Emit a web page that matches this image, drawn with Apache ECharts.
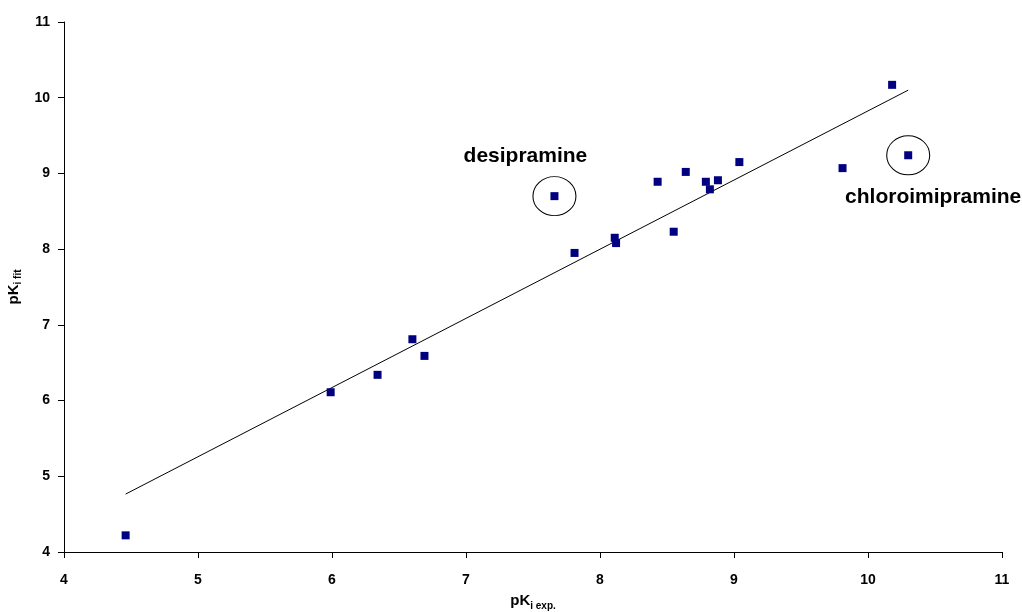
<!DOCTYPE html>
<html>
<head>
<meta charset="utf-8">
<style>
  html, body { margin: 0; padding: 0; background: #fff; }
  #main { width: 1022px; height: 612px; }
</style>
<script src="https://cdn.jsdelivr.net/npm/echarts@6/dist/echarts.min.js"></script>
</head>
<body>
<div id="main"></div>
<script>
// measured pKi values (x = experimental, y = fitted)
var pkExp = [4.46, 5.99, 6.34, 6.60, 6.69, 7.66, 7.81, 8.11, 8.12, 8.43, 8.55, 8.64, 8.79, 8.82, 8.88, 9.04, 9.81, 10.18, 10.30];
var pkFit = [4.22, 6.11, 6.34, 6.81, 6.59, 8.70, 7.95, 8.15, 8.08, 8.89, 8.23, 9.02, 8.89, 8.79, 8.91, 9.15, 9.07, 10.17, 9.24];

// regression line end points
var fitX = [4.46, 10.30];
var fitY = [4.765, 10.10];

// circled outliers
var outlierNames = ['desipramine', 'chloroimipramine'];
var outlierX = [7.66, 10.30];
var outlierY = [8.70, 9.24];

var font = "'Liberation Sans', Arial, sans-serif";

var points = pkExp.map(function(x, i) { return [x, pkFit[i]]; });
var line = fitX.map(function(x, i) { return [x, fitY[i]]; });

var labelPos = [
  { position: 'top', offset: [-29, -4] },
  { position: 'bottom', offset: [25, 6] }
];
var circles = outlierX.map(function(x, i) {
  return {
    name: outlierNames[i],
    value: [x, outlierY[i]],
    label: {
      show: true,
      formatter: '{b}',
      position: labelPos[i].position,
      offset: labelPos[i].offset,
      fontFamily: font,
      fontWeight: 'bold',
      fontSize: 21,
      color: '#000'
    }
  };
});

var chart = echarts.init(document.getElementById('main'), null, { renderer: 'canvas' });

var axisCommon = {
  type: 'value',
  min: 4,
  max: 11,
  interval: 1,
  nameLocation: 'middle',
  axisLine: { show: true, lineStyle: { color: '#000', width: 1 } },
  axisTick: { show: true, inside: false, length: 6, lineStyle: { color: '#000' } },
  splitLine: { show: false },
  axisLabel: { color: '#000', fontFamily: font, fontWeight: 'bold', fontSize: 14 }
};

var nameRich = {
  a: { fontFamily: font, fontWeight: 'bold', fontSize: 15, color: '#000', lineHeight: 20 },
  b: { fontFamily: font, fontWeight: 'bold', fontSize: 10, color: '#000', lineHeight: 8, verticalAlign: 'bottom' }
};

var option = {
  animation: false,
  backgroundColor: '#fff',
  grid: { left: 64, right: 20, top: 22, bottom: 60, outerBoundsMode: 'none', containLabel: false },
  xAxis: Object.assign({}, axisCommon, {
    name: '{a|pK}{b|i exp.}',
    nameGap: 39,
    nameTextStyle: { rich: nameRich },
    axisLabel: Object.assign({}, axisCommon.axisLabel, { margin: 21 })
  }),
  yAxis: Object.assign({}, axisCommon, {
    name: '{a|pK}{b|i fit}',
    nameGap: 35,
    nameRotate: 90,
    nameTextStyle: { rich: nameRich },
    axisLabel: Object.assign({}, axisCommon.axisLabel, { margin: 14 })
  }),
  series: [
    {
      type: 'line',
      data: line,
      symbol: 'none',
      lineStyle: { color: '#000', width: 1 },
      z: 2
    },
    {
      type: 'scatter',
      data: points,
      symbol: 'rect',
      symbolSize: 8,
      itemStyle: { color: '#000080', opacity: 1 },
      z: 3
    },
    {
      type: 'scatter',
      data: circles,
      symbol: 'circle',
      symbolSize: [43, 39],
      itemStyle: { color: 'rgba(0,0,0,0)', borderColor: '#000', borderWidth: 1, opacity: 1 },
      z: 4
    }
  ]
};

chart.setOption(option);
window.addEventListener('resize', function() { chart.resize(); });
</script>
</body>
</html>
